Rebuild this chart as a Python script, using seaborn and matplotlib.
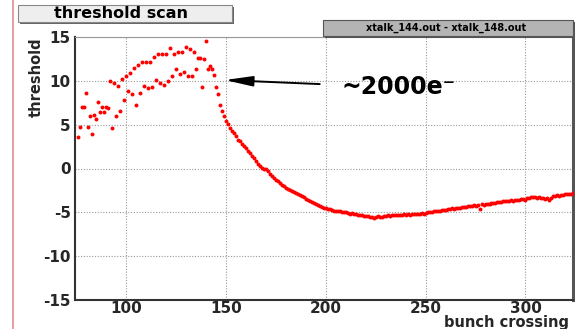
import matplotlib
matplotlib.use("Agg")
import matplotlib.pyplot as plt
import seaborn as sns
import pandas as pd
from matplotlib import font_manager
from matplotlib.patches import Rectangle
from matplotlib.lines import Line2D

# ---------------- data ----------------
bunch_start = 76
threshold = [
    3.56, 4.77, 6.98, 7.00, 8.57, 4.70, 6.00, 3.93, 6.14, 5.60,      # 76-85
    7.55, 6.50, 7.05, 6.50, 7.00, 6.86, 9.98, 4.58, 9.75, 5.95,      # 86-95
    9.44, 6.60, 10.17, 7.80, 10.60, 8.80, 10.95, 8.46, 11.50, 7.30,  # 96-105
    11.77, 8.60, 12.10, 9.40, 12.10, 9.20, 12.15, 9.30, 12.70, 10.10,  # 106-115
    13.05, 9.80, 13.05, 9.50, 13.10, 9.97, 13.70, 10.55, 13.10, 11.40,  # 116-125
    13.30, 10.77, 13.30, 10.97, 13.85, 10.55, 13.66, 10.55, 13.30, 11.30,  # 126-135
    12.60, 12.60, 9.30, 12.45, 14.54, 11.40, 11.70, 11.40, 10.66, 9.30,  # 136-145
    8.53, 7.28, 6.52, 5.99, 5.45, 5.03, 4.66, 4.30, 4.05, 3.75,      # 146-155
    3.30, 3.10, 2.85, 2.60, 2.35, 2.00, 1.75, 1.45, 1.15, 0.85,      # 156-165
    0.55, 0.30, 0.10, 0.00, -0.10, -0.30, -0.60, -0.90, -1.10, -1.30,  # 166-175
    -1.45, -1.60, -1.85, -2.05, -2.20, -2.35, -2.50, -2.60, -2.70, -2.85,  # 176-185
    -2.95, -3.05, -3.15, -3.30, -3.45, -3.60, -3.75, -3.85, -3.95, -4.05,  # 186-195
    -4.15, -4.30, -4.40, -4.45, -4.55, -4.60, -4.65, -4.75, -4.80, -4.85,  # 196-205
    -4.90, -4.90, -4.95, -5.00, -4.95, -5.05, -5.15, -5.10, -5.20, -5.20,  # 206-215
    -5.30, -5.25, -5.30, -5.40, -5.40, -5.45, -5.50, -5.55, -5.60, -5.50,  # 216-225
    -5.45, -5.50, -5.50, -5.45, -5.40, -5.35, -5.40, -5.30, -5.35, -5.30,  # 226-235
    -5.25, -5.30, -5.25, -5.20, -5.25, -5.20, -5.25, -5.20, -5.15, -5.20,  # 236-245
    -5.15, -5.20, -5.10, -5.15, -5.10, -5.00, -4.95, -4.95, -4.85, -4.90,  # 246-255
    -4.80, -4.85, -4.75, -4.70, -4.75, -4.60, -4.65, -4.55, -4.60, -4.50,  # 256-265
    -4.45, -4.45, -4.40, -4.35, -4.40, -4.30, -4.30, -4.25, -4.20, -4.25,  # 266-275
    -4.15, -4.60, -4.10, -4.15, -4.05, -4.00, -4.05, -3.95, -3.90, -3.95,  # 276-285
    -3.85, -3.80, -3.85, -3.75, -3.70, -3.75, -3.70, -3.65, -3.70, -3.60,  # 286-295
    -3.55, -3.60, -3.50, -3.45, -3.55, -3.40, -3.35, -3.25, -3.30, -3.30,  # 296-305
    -3.35, -3.30, -3.40, -3.35, -3.45, -3.35, -3.65, -3.40, -3.15, -3.15,  # 306-315
    -3.05, -3.10, -3.00, -3.05, -2.95, -2.95, -2.90, -2.90, -2.85,    # 316-324
]
bunch = list(range(bunch_start, bunch_start + len(threshold)))

x_ticks = [100, 150, 200, 250, 300]
y_ticks = [-15, -10, -5, 0, 5, 10, 15]
title_text = "threshold scan"
stats_text = "xtalk_144.out - xtalk_148.out"
note_text = "~2000e\u207b"
x_label = "bunch crossing"
y_label = "threshold"

df = pd.DataFrame({"bunch crossing": bunch, "threshold": threshold})

# ---------------- style ----------------
sns.set_style("white")
plt.rcParams["font.family"] = ["DejaVu Sans"]
plt.rcParams["font.weight"] = "bold"

W, H = 575, 329
fig, ax = plt.subplots(figsize=(W / 100, H / 100), dpi=100)
fig.patch.set_facecolor("white")
fig.subplots_adjust(left=75 / W, right=573 / W, bottom=1 - 300 / H, top=1 - 37 / H)

sns.scatterplot(data=df, x="bunch crossing", y="threshold", ax=ax,
                color="#ff0000", marker="o", s=8, linewidth=0, zorder=3)

ax.set_xlim(74.5, 323.8)
ax.set_ylim(-15, 15)
ax.set_xticks(x_ticks)
ax.set_yticks(y_ticks)
ax.set_xticks(range(80, 324, 10), minor=True)
ax.set_yticks(range(-15, 16), minor=True)
ax.set_xticklabels([str(v) for v in x_ticks], fontsize=11, fontweight="bold")
ax.set_yticklabels([str(v) for v in y_ticks], fontsize=11, fontweight="bold")

ax.tick_params(axis="both", which="both", direction="in", color="#444444")
ax.tick_params(axis="x", which="major", length=6, width=1, pad=1)
ax.tick_params(axis="x", which="minor", length=3.5, width=1)
ax.tick_params(axis="y", which="major", length=9.5, width=1, pad=3)
ax.tick_params(axis="y", which="minor", length=5, width=1)
ax.tick_params(top=False, right=False, which="both")

ax.grid(True, which="major", color="#999999", linestyle=(0, (1, 1.5)), linewidth=0.8)
ax.set_axisbelow(True)

for side, col, lw in [("left", "#333333", 1.5), ("bottom", "#333333", 1.5),
                      ("top", "#999999", 0.8), ("right", "#555555", 2.2)]:
    ax.spines[side].set_visible(True)
    ax.spines[side].set_color(col)
    ax.spines[side].set_linewidth(lw)

ax.set_xlabel(x_label, fontsize=10.5, fontweight="bold", loc="right")
ax.xaxis.set_label_coords((569 - 75) / 498, (300 - 315) / 263)
ax.set_ylabel(y_label, fontsize=10.5, fontweight="bold", loc="top",
              family=["DejaVu Sans"])
ax.yaxis.set_label_coords((44 - 75) / 498, 1.0)

# arrow and note
ax.annotate("", xy=(149.5, 10.09), xytext=(197, 9.63),
            arrowprops=dict(arrowstyle="-|>,head_length=1.2,head_width=0.22",
                            color="black", lw=1.4, mutation_scale=14,
                            shrinkA=0, shrinkB=0), zorder=4)
ax.text(208, 9.3, note_text, fontsize=17, fontweight="bold", ha="left",
        va="center", color="black", zorder=4)

# red left canvas line
fig.add_artist(Line2D([12.7 / W, 12.7 / W], [0, 1], color="#e09090", lw=1.2))

# title box
def fig_rect(x0, y0, x1, y1, **kw):
    return Rectangle((x0 / W, 1 - y1 / H), (x1 - x0) / W, (y1 - y0) / H,
                     transform=fig.transFigure, **kw)

fig.add_artist(fig_rect(20, 7, 234, 24, facecolor="#666666", edgecolor="none", zorder=5))
fig.add_artist(fig_rect(18, 5, 232, 22, facecolor="#eeeeee", edgecolor="#888888",
                        lw=0.8, zorder=6))
fig.text(121 / W, 1 - 13.5 / H, title_text, fontsize=11.5, fontweight="bold",
         ha="center", va="center", color="black", zorder=7)

# stats box
fig.add_artist(fig_rect(325, 22, 575, 38, facecolor="#555555", edgecolor="none", zorder=5))
fig.add_artist(fig_rect(323, 20, 573, 36, facecolor="#b4b4b4", edgecolor="#555555",
                        lw=0.8, zorder=6))
fig.text(446 / W, 1 - 28 / H, stats_text, fontsize=7, fontweight="bold",
         ha="center", va="center", color="black", zorder=7)

fig.savefig("out.png", dpi=100)
